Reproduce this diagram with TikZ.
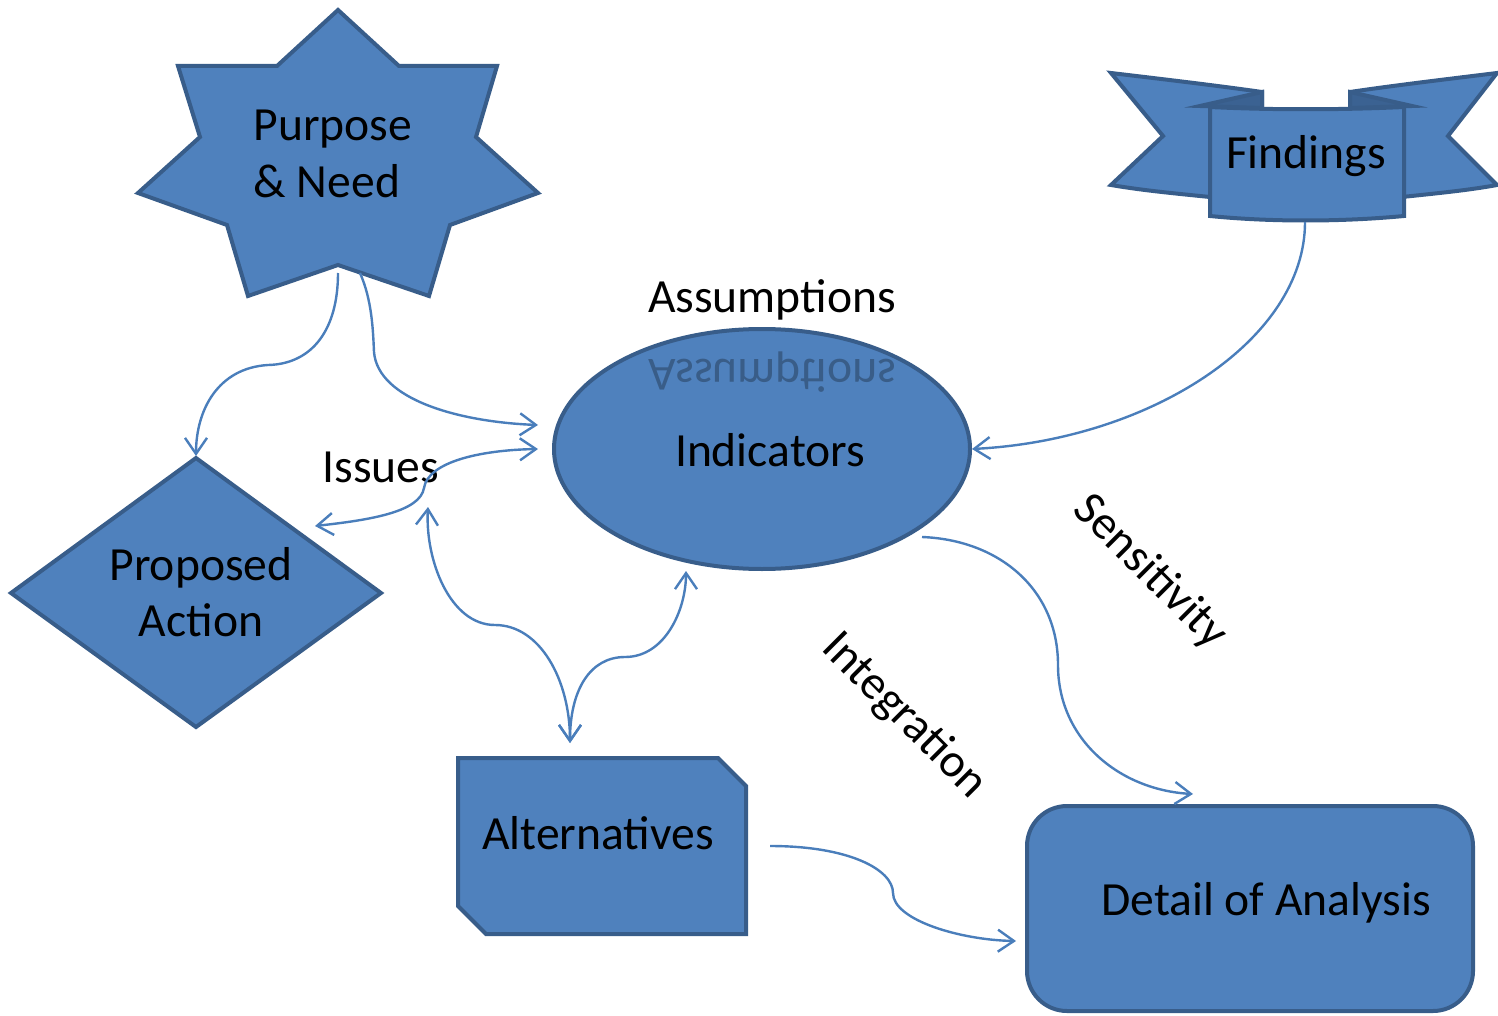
\documentclass[tikz,border=0pt]{standalone}
\usepackage{fontspec}
\setmainfont{Carlito}
\usetikzlibrary{arrows.meta,shapes.geometric}
\definecolor{shapefill}{HTML}{4F81BD}
\definecolor{shapeedge}{HTML}{385D8A}
\definecolor{connblue}{HTML}{4A7EBB}
\begin{document}
\begin{tikzpicture}[x=0.5pt,y=-0.5pt,
  shapebox/.style={fill=shapefill,draw=shapeedge,line width=2pt},
  foldbox/.style={fill=shapeedge!85!shapefill,draw=shapeedge,line width=2pt},
  lbl/.style={font=\fontsize{23.8pt}{28.3pt}\selectfont,inner sep=0pt},
  conn/.style={draw=connblue,line width=1.2pt,-{Straight Barb[length=8pt,width=11pt]}},
  bconn/.style={draw=connblue,line width=1.2pt,{Straight Barb[length=8pt,width=11pt]}-{Straight Barb[length=8pt,width=11pt]}}]
\useasboundingbox (0,0) rectangle (1498,1016);
% Purpose & Need star
\draw[shapebox] (338,10) -- (399,66) -- (497,66) -- (476,137) -- (538,193) -- (450,225)
  -- (429,296) -- (338,265) -- (248,296) -- (227,225) -- (138,193) -- (200,137)
  -- (178,66) -- (277,66) -- cycle;
\node[lbl,align=left] (pn) at (333,154) {Purpose\\\& Need};
% Findings banner
\draw[shapebox] (1111,73) .. controls (1170,80) and (1220,86) .. (1262,92) -- (1262,200)
  -- (1210,197) .. controls (1170,193) and (1140,190) .. (1111,185) -- (1163,136) -- cycle;
\draw[shapebox] (1497,73) .. controls (1440,80) and (1390,86) .. (1350,92) -- (1350,200)
  -- (1402,197) .. controls (1440,193) and (1470,190) .. (1497,185) -- (1448,136) -- cycle;
\draw[foldbox] (1262,92) -- (1200,106) -- (1262,108) -- cycle;
\draw[foldbox] (1350,92) -- (1412,106) -- (1350,108) -- cycle;
\draw[shapebox] (1210,107) .. controls (1270,110) and (1340,110) .. (1404,107) -- (1404,216)
  .. controls (1340,222) and (1270,222) .. (1210,216) -- cycle;
\node[lbl] (fi) at (1306,156) {Findings};
% Indicators ellipse
\draw[shapebox] (762,449) ellipse [x radius=208, y radius=120];
% Assumptions with reflection
\node[lbl,text=black,opacity=0.28,yscale=-1] (asr) at (772,372) {Assumptions};
\node[lbl] (as) at (772,300) {Assumptions};
\node[lbl] (ind) at (770,450) {Indicators};
% Proposed Action diamond
\draw[shapebox] (196,458) -- (381,593) -- (196,727) -- (11,593) -- cycle;
\node[lbl,align=center] (pa) at (201,592) {Proposed\\Action};
% Alternatives snipped rectangle
\draw[shapebox] (458,758) -- (718,758) -- (746,786) -- (746,934) -- (486,934) -- (458,906) -- cycle;
\node[lbl] (alt) at (598,833) {Alternatives};
% Detail of Analysis
\draw[shapebox,rounded corners=20pt] (1027,806) rectangle (1473,1011);
\node[lbl] (det) at (1266,903) {Detail of Analysis};
% free labels
\node[lbl] (iss) at (381,467) {Issues};
\node[lbl,rotate=-45] (sen) at (1150,572) {Sensitivity};
\node[lbl,rotate=-45] (integ) at (904,716) {Integration};
% connector end points
\coordinate (pnA) at (338,273);
\coordinate (pnB) at (360,273);
\coordinate (paT) at (196,456);
\coordinate (indL1) at (538,425);
\coordinate (indL2) at (538,449);
\coordinate (paR) at (315,526);
\coordinate (issB) at (428,507);
\coordinate (altT) at (570,743);
\coordinate (indB) at (686,571);
\coordinate (fiB) at (1305,222);
\coordinate (indR) at (972,449);
\coordinate (indBR) at (922,537);
\coordinate (detT) at (1193,794);
\coordinate (altR) at (770,846);
\coordinate (detL) at (1016,941);
% connectors
\draw[conn] (pnA) .. controls (338,330) and (312,364) .. (268,365) .. controls (218,368) and (196,410) .. (paT);
\draw[conn] (pnB) .. controls (372,300) and (373,330) .. (374,352) .. controls (378,400) and (460,422) .. (indL1);
\draw[bconn] (paR) .. controls (370,520) and (420,512) .. (424,488) .. controls (428,462) and (480,450) .. (indL2);
\draw[bconn] (issB) .. controls (425,560) and (450,625) .. (495,625) .. controls (540,625) and (570,680) .. (altT);
\draw[bconn] (altT) .. controls (570,690) and (590,657) .. (625,657) .. controls (665,657) and (686,610) .. (indB);
\draw[conn] (fiB) .. controls (1305,340) and (1150,440) .. (indR);
\draw[conn] (indBR) .. controls (1000,540) and (1058,590) .. (1058,665) .. controls (1058,740) and (1120,790) .. (detT);
\draw[conn] (altR) .. controls (850,846) and (893,870) .. (893,893) .. controls (893,920) and (960,940) .. (detL);
\end{tikzpicture}
\end{document}
